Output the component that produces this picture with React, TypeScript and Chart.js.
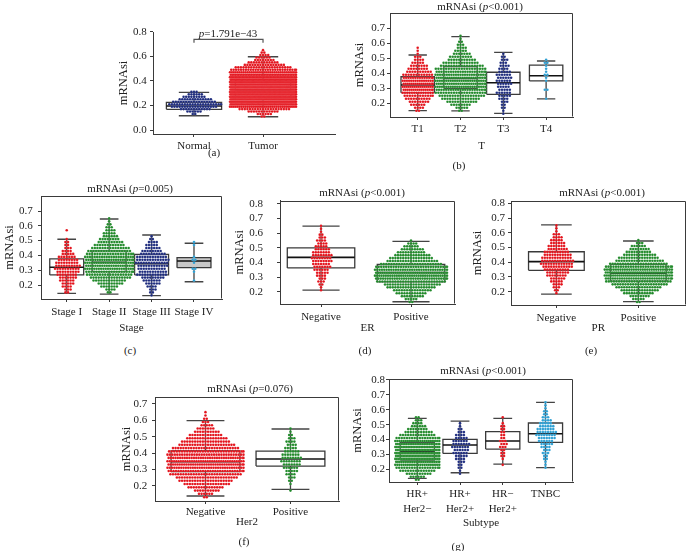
import React, { useEffect, useRef } from 'react';
import { Chart, registerables } from 'chart.js';

Chart.register(...registerables);

const FONT = "'Liberation Serif', 'Times New Roman', Times, serif";
Chart.defaults.font.family = FONT;
Chart.defaults.font.size = 11;
Chart.defaults.color = '#222';

// centres of the mRNAsi bins; each group's array gives the number of dots per bin
const BINS = [0.11, 0.13, 0.15, 0.17, 0.19, 0.21, 0.23, 0.25, 0.27, 0.29, 0.31, 0.33, 0.35, 0.37, 0.39, 0.41, 0.43, 0.45, 0.47, 0.49, 0.51, 0.53, 0.55, 0.57, 0.59, 0.61, 0.63, 0.65];

// (a) Normal vs Tumor
const A_CATS = ['Normal', 'Tumor'];
const A_YTICKS = [0.0, 0.2, 0.4, 0.6, 0.8];
const A_NORMAL = [0, 2, 6, 12, 18, 21, 17, 13, 9, 6, 3, 0, 0, 0, 0, 0, 0, 0, 0, 0, 0, 0, 0, 0, 0, 0, 0, 0];
const A_TUMOR = [2, 6, 12, 20, 35, 55, 65, 75, 80, 82, 80, 78, 75, 70, 62, 55, 48, 42, 35, 28, 22, 16, 12, 8, 6, 4, 2, 1];
// box stats: [lower whisker, Q1, median, Q3, upper whisker]
const A_BOX_NORMAL = [0.116, 0.168, 0.195, 0.225, 0.306];
const A_BOX_TUMOR = [0.108, 0.25, 0.32, 0.41, 0.596];
const A_PTEXT = 'p=1.791e−43';

// (b) T stage
const B_CATS = ['T1', 'T2', 'T3', 'T4'];
const B_YTICKS = [0.2, 0.3, 0.4, 0.5, 0.6, 0.7];
const B_T1 = [0, 0, 2, 4, 6, 8, 10, 12, 14, 16, 16, 16, 15, 14, 12, 10, 8, 7, 5, 4, 3, 1, 1, 1, 0, 0, 0, 0];
const B_T2 = [0, 0, 2, 5, 8, 12, 15, 18, 20, 22, 24, 24, 24, 24, 23, 22, 20, 17, 14, 11, 9, 7, 5, 4, 3, 2, 1, 1];
const B_T3 = [0, 1, 1, 2, 2, 3, 4, 5, 6, 5, 5, 6, 6, 6, 6, 5, 4, 4, 3, 3, 2, 1, 0, 0, 0, 0, 0, 0];
const B_T4 = [0, 0, 0, 0, 0, 0, 1, 0, 0, 2, 0, 0, 1, 1, 2, 1, 1, 1, 2, 1, 0, 0, 0, 0, 0, 0, 0, 0];
const B_BOX_T1 = [0.151, 0.271, 0.322, 0.377, 0.522];
const B_BOX_T2 = [0.15, 0.3, 0.365, 0.444, 0.645];
const B_BOX_T3 = [0.133, 0.26, 0.337, 0.407, 0.54];
const B_BOX_T4 = [0.229, 0.349, 0.384, 0.455, 0.482];
const B_TITLE = 'mRNAsi (p<0.001)';

// (c) Stage
const C_CATS = ['Stage I', 'Stage II', 'Stage III', 'Stage IV'];
const C_YTICKS = [0.2, 0.3, 0.4, 0.5, 0.6, 0.7];
const C_S1 = [0, 0, 2, 3, 4, 5, 6, 7, 8, 9, 10, 10, 9, 8, 7, 5, 4, 3, 2, 2, 1, 0, 0, 1, 0, 0, 0, 0];
const C_S2 = [0, 0, 2, 4, 7, 10, 13, 16, 18, 20, 22, 22, 22, 22, 21, 19, 17, 15, 12, 10, 8, 6, 5, 4, 3, 2, 1, 1];
const C_S3 = [0, 1, 2, 3, 4, 6, 7, 9, 12, 11, 11, 12, 13, 13, 12, 10, 8, 6, 5, 4, 2, 1, 0, 0, 0, 0, 0, 0];
const C_S4 = [0, 0, 0, 0, 0, 0, 1, 0, 0, 1, 2, 0, 1, 2, 1, 0, 0, 0, 1, 1, 0, 0, 0, 0, 0, 0, 0, 0];
const C_BOX_S1 = [0.144, 0.268, 0.32, 0.376, 0.509];
const C_BOX_S2 = [0.139, 0.29, 0.353, 0.43, 0.646];
const C_BOX_S3 = [0.128, 0.268, 0.344, 0.407, 0.538];
const C_BOX_S4 = [0.222, 0.317, 0.362, 0.385, 0.482];
const C_TITLE = 'mRNAsi (p=0.005)';

// (d) ER
const D_CATS = ['Negative', 'Positive'];
const D_YTICKS = [0.2, 0.3, 0.4, 0.5, 0.6, 0.7, 0.8];
const D_NEG = [0, 0, 0, 0, 0, 1, 1, 2, 3, 3, 4, 5, 6, 7, 7, 8, 8, 8, 7, 6, 5, 4, 4, 3, 2, 1, 1, 1];
const D_POS = [0, 2, 5, 9, 12, 15, 19, 22, 27, 32, 34, 34, 32, 30, 24, 20, 17, 14, 11, 9, 6, 4, 1, 0, 0, 0, 0, 0];
const D_BOX_NEG = [0.211, 0.363, 0.435, 0.499, 0.648];
const D_BOX_POS = [0.132, 0.268, 0.331, 0.386, 0.544];
const D_TITLE = 'mRNAsi (p<0.001)';

// (e) PR
const E_CATS = ['Negative', 'Positive'];
const E_YTICKS = [0.2, 0.3, 0.4, 0.5, 0.6, 0.7, 0.8];
const E_NEG = [0, 0, 0, 0, 1, 2, 3, 4, 5, 6, 8, 9, 10, 12, 13, 13, 12, 11, 10, 8, 7, 6, 5, 4, 3, 1, 1, 1];
const E_POS = [0, 2, 5, 8, 12, 15, 18, 22, 26, 30, 33, 33, 31, 28, 23, 19, 16, 13, 10, 8, 6, 3, 1, 0, 0, 0, 0, 0];
const E_BOX_NEG = [0.184, 0.345, 0.404, 0.471, 0.653];
const E_BOX_POS = [0.132, 0.272, 0.326, 0.386, 0.544];
const E_TITLE = 'mRNAsi (p<0.001)';

// (f) Her2
const F_CATS = ['Negative', 'Positive'];
const F_YTICKS = [0.2, 0.3, 0.4, 0.5, 0.6, 0.7];
const F_NEG = [0, 2, 6, 10, 14, 18, 21, 24, 28, 32, 34, 35, 35, 34, 32, 30, 26, 22, 19, 16, 13, 10, 7, 5, 3, 2, 1, 1];
const F_POS = [0, 0, 0, 1, 0, 1, 2, 3, 4, 5, 6, 7, 8, 8, 7, 6, 5, 4, 4, 3, 2, 1, 1, 0, 0, 0, 0, 0];
const F_BOX_NEG = [0.137, 0.286, 0.347, 0.414, 0.598];
const F_BOX_POS = [0.178, 0.32, 0.363, 0.412, 0.547];
const F_TITLE = 'mRNAsi (p=0.076)';

// (g) Subtype
const G_CATS = [['HR+', 'Her2−'], ['HR+', 'Her2+'], ['HR−', 'Her2+'], 'TNBC'];
const G_YTICKS = [0.2, 0.3, 0.4, 0.5, 0.6, 0.7, 0.8];
const G_HRP_HER2N = [0, 2, 6, 10, 14, 18, 22, 25, 28, 30, 30, 29, 28, 26, 22, 18, 14, 11, 8, 6, 4, 3, 2, 0, 0, 0, 0, 0];
const G_HRP_HER2P = [0, 0, 0, 1, 1, 2, 2, 3, 4, 5, 6, 6, 7, 7, 6, 5, 4, 3, 2, 1, 1, 0, 0, 0, 0, 0, 0, 0];
const G_HRN_HER2P = [0, 0, 0, 0, 0, 0, 1, 0, 1, 2, 2, 2, 3, 3, 3, 2, 2, 2, 2, 2, 1, 0, 1, 0, 0, 0, 0, 0];
const G_TNBC = [0, 0, 0, 0, 0, 1, 1, 1, 2, 2, 3, 3, 4, 5, 6, 7, 8, 8, 7, 6, 5, 4, 3, 2, 2, 1, 1, 1];
const G_BOX_1 = [0.139, 0.262, 0.318, 0.381, 0.542];
const G_BOX_2 = [0.177, 0.307, 0.363, 0.401, 0.524];
const G_BOX_3 = [0.235, 0.336, 0.39, 0.453, 0.542];
const G_BOX_4 = [0.211, 0.381, 0.439, 0.511, 0.65];
const G_TITLE = 'mRNAsi (p<0.001)';

const RED = '#e3121b';
const GREEN = '#21892a';
const NAVY = '#1d2b7d';
const CYAN = '#2c9fd3';

const TICK_LEN = 3;
const YTITLE_SIZE = 12.5;
const YTITLE_LH = YTITLE_SIZE * 1.2;
const XTITLE_LH = 11 * 1.2;
const DOT_GAP = 2.6;
const DOT_R = 1.3;
const CAP = 0.55;

type Panel = {
  key: string;
  cats: any[];
  counts: number[][];
  boxes: number[][];
  colors: string[];
  boxFill?: (string | null)[];
  yTicks: number[];
  xTitle?: string;
  title?: string;
  titlePos?: [number, number];
  letter: string;
  letterPos: [number, number];
  canvas: { x: number; y: number; w: number; h: number };
  area: { l: number; t: number; r: number; b: number };
  xMin: number; xMax: number; yMin: number; yMax: number;
  boxW: number;
  halfW: number[];
  yLabelRight: number;
  yTitleX: number;
  xTitleY?: number;
  xTickPad: number;
  catLineHeight?: number;
  sides: string[];
  bracket?: boolean;
};

const PANELS: Panel[] = [
  {
    key: 'a', cats: A_CATS, counts: [A_NORMAL, A_TUMOR], boxes: [A_BOX_NORMAL, A_BOX_TUMOR], colors: [NAVY, RED],
    yTicks: A_YTICKS, letter: '(a)', letterPos: [214, 152],
    canvas: { x: 115, y: 20, w: 225, h: 140 }, area: { l: 153, t: 32, r: 335, b: 134 },
    xMin: -0.594, xMax: 2.043, yMin: -0.0325, yMax: 0.7976, boxW: 0.8, halfW: [27, 33],
    yLabelRight: 146.7, yTitleX: 124, xTickPad: 3, sides: [], bracket: true,
  },
  {
    key: 'b', cats: B_CATS, counts: [B_T1, B_T2, B_T3, B_T4], boxes: [B_BOX_T1, B_BOX_T2, B_BOX_T3, B_BOX_T4],
    colors: [RED, GREEN, NAVY, CYAN], yTicks: B_YTICKS, xTitle: 'T', title: B_TITLE, titlePos: [480, 6],
    letter: '(b)', letterPos: [459, 165],
    canvas: { x: 345, y: 0, w: 235, h: 155 }, area: { l: 390, t: 13, r: 573, b: 117 },
    xMin: -0.647, xMax: 3.628, yMin: 0.1087, yMax: 0.802, boxW: 0.78, halfW: [15, 25, 14, 6],
    yLabelRight: 385, yTitleX: 360, xTitleY: 146, xTickPad: 3, sides: ['top', 'right'],
  },
  {
    key: 'c', cats: C_CATS, counts: [C_S1, C_S2, C_S3, C_S4], boxes: [C_BOX_S1, C_BOX_S2, C_BOX_S3, C_BOX_S4],
    colors: [RED, GREEN, NAVY, CYAN], boxFill: [null, null, null, '#c8c8c8'], yTicks: C_YTICKS, xTitle: 'Stage',
    title: C_TITLE, titlePos: [130, 188], letter: '(c)', letterPos: [130, 350],
    canvas: { x: 0, y: 180, w: 228, h: 157 }, area: { l: 41, t: 196, r: 222, b: 299 },
    xMin: -0.606, xMax: 3.66, yMin: 0.1054, yMax: 0.8014, boxW: 0.8, halfW: [15, 24, 18, 6],
    yLabelRight: 32.7, yTitleX: 10, xTitleY: 328, xTickPad: 3.4, sides: ['top', 'right'],
  },
  {
    key: 'd', cats: D_CATS, counts: [D_NEG, D_POS], boxes: [D_BOX_NEG, D_BOX_POS], colors: [RED, GREEN],
    yTicks: D_YTICKS, xTitle: 'ER', title: D_TITLE, titlePos: [362, 192], letter: '(d)', letterPos: [365, 350],
    canvas: { x: 228, y: 180, w: 232, h: 157 }, area: { l: 280, t: 200, r: 455, b: 304 },
    xMin: -0.456, xMax: 1.489, yMin: 0.1165, yMax: 0.8224, boxW: 0.75, halfW: [14, 36],
    yLabelRight: 263, yTitleX: 240, xTitleY: 328.3, xTickPad: 3.4, sides: ['top', 'right'],
  },
  {
    key: 'e', cats: E_CATS, counts: [E_NEG, E_POS], boxes: [E_BOX_NEG, E_BOX_POS], colors: [RED, GREEN],
    yTicks: E_YTICKS, xTitle: 'PR', title: E_TITLE, titlePos: [602, 192], letter: '(e)', letterPos: [591, 350],
    canvas: { x: 466, y: 180, w: 224, h: 157 }, area: { l: 511, t: 201, r: 688, b: 305 },
    xMin: -0.554, xMax: 1.578, yMin: 0.1097, yMax: 0.8156, boxW: 0.68, halfW: [22, 34],
    yLabelRight: 505, yTitleX: 478, xTitleY: 328.3, xTickPad: 3.4, sides: ['top', 'right'],
  },
  {
    key: 'f', cats: F_CATS, counts: [F_NEG, F_POS], boxes: [F_BOX_NEG, F_BOX_POS], colors: [RED, GREEN],
    yTicks: F_YTICKS, xTitle: 'Her2', title: F_TITLE, titlePos: [250, 388], letter: '(f)', letterPos: [244, 541],
    canvas: { x: 115, y: 375, w: 230, h: 160 }, area: { l: 155, t: 397, r: 339, b: 501 },
    xMin: -0.594, xMax: 1.571, yMin: 0.1064, yMax: 0.7428, boxW: 0.81, halfW: [38, 14],
    yLabelRight: 147.3, yTitleX: 127, xTitleY: 521.7, xTickPad: 2, sides: ['top', 'right'],
  },
  {
    key: 'g', cats: G_CATS, counts: [G_HRP_HER2N, G_HRP_HER2P, G_HRN_HER2P, G_TNBC],
    boxes: [G_BOX_1, G_BOX_2, G_BOX_3, G_BOX_4], colors: [GREEN, NAVY, RED, CYAN],
    yTicks: G_YTICKS, xTitle: 'Subtype', title: G_TITLE, titlePos: [483, 370], letter: '(g)', letterPos: [458, 546],
    canvas: { x: 345, y: 360, w: 235, h: 172 }, area: { l: 389, t: 379, r: 573, b: 482 },
    xMin: -0.662, xMax: 3.644, yMin: 0.1147, yMax: 0.8067, boxW: 0.8, halfW: [22, 13, 10, 14],
    yLabelRight: 385, yTitleX: 358, xTitleY: 523.3, xTickPad: 1, catLineHeight: 1.4, sides: ['top', 'right'],
  },
];

function buildConfig(p: Panel): any {
  const pxPerX = (p.area.r - p.area.l) / (p.xMax - p.xMin);
  const datasets: any[] = [];

  p.counts.forEach((cnt, gi) => {
    const pts: { x: number; y: number }[] = [];
    cnt.forEach((n, bi) => {
      if (!n) return;
      const s = n > 1 ? Math.min(DOT_GAP, (2 * p.halfW[gi]) / (n - 1)) : 0;
      const stagger = bi % 2 === 1 && n > 2 ? s / 2 : 0;
      for (let k = 0; k < n; k++) {
        const off = (k - (n - 1) / 2) * s + stagger;
        const clamped = Math.max(-p.halfW[gi], Math.min(p.halfW[gi], off));
        pts.push({ x: gi + clamped / pxPerX, y: BINS[bi] });
      }
    });
    datasets.push({
      type: 'scatter', data: pts, order: 0,
      pointRadius: DOT_R, pointBackgroundColor: p.colors[gi],
      pointBorderColor: 'rgba(255,255,255,0.3)', pointBorderWidth: 0.3,
    });
  });

  p.boxes.forEach((b, gi) => {
    const [lo, q1, med, q3, hi] = b;
    const hw = p.boxW / 2;
    const cw = hw * CAP;
    const fill = p.boxFill ? p.boxFill[gi] : null;
    datasets.push({
      type: 'line', order: 3, pointRadius: 0, borderColor: '#3a3a3a', borderWidth: 1.3, tension: 0,
      data: [
        { x: gi - hw, y: q1 }, { x: gi + hw, y: q1 }, { x: gi + hw, y: q3 }, { x: gi - hw, y: q3 }, { x: gi - hw, y: q1 },
      ],
      fill: fill ? 'shape' : false, backgroundColor: fill || 'transparent',
    });
    datasets.push({
      type: 'line', order: 3, pointRadius: 0, borderColor: '#444', borderWidth: 1.3, tension: 0, fill: false,
      data: [
        { x: gi, y: q3 }, { x: gi, y: hi }, { x: gi, y: null },
        { x: gi - cw, y: hi }, { x: gi + cw, y: hi }, { x: gi, y: null },
        { x: gi, y: q1 }, { x: gi, y: lo }, { x: gi, y: null },
        { x: gi - cw, y: lo }, { x: gi + cw, y: lo },
      ],
    });
    datasets.push({
      type: 'line', order: 2, pointRadius: 0, borderColor: '#111', borderWidth: 1.6, tension: 0, fill: false,
      data: [{ x: gi - hw, y: med }, { x: gi + hw, y: med }],
    });
  });

  if (p.bracket) {
    datasets.push({
      type: 'line', order: 3, pointRadius: 0, borderColor: '#555', borderWidth: 1.2, tension: 0, fill: false,
      data: [{ x: 0, y: 0.71 }, { x: 0, y: 0.737 }, { x: 1, y: 0.737 }, { x: 1, y: 0.71 }],
    });
  }

  const yAxisW = p.area.l - p.canvas.x;
  const xAxisH = p.canvas.y + p.canvas.h - p.area.b;
  const yTickPad = p.area.l - p.yLabelRight - TICK_LEN;
  const yTitlePad = p.yTitleX - p.canvas.x - YTITLE_LH / 2;
  const xTitlePad = p.xTitleY ? p.canvas.y + p.canvas.h - p.xTitleY - XTITLE_LH / 2 : 0;

  const sides = p.sides;
  const framePlugin = {
    id: 'frame' + p.key,
    afterDraw(chart: any) {
      const { ctx, chartArea: a } = chart;
      const L = Math.round(a.left) + 0.5, R = Math.round(a.right) - 0.5;
      const T = Math.round(a.top) + 0.5, B = Math.round(a.bottom) - 0.5;
      ctx.save();
      ctx.strokeStyle = '#3a3a3a';
      ctx.lineWidth = 1;
      ctx.beginPath();
      if (sides.includes('top')) { ctx.moveTo(L, T); ctx.lineTo(R, T); }
      if (sides.includes('right')) { ctx.moveTo(R, T); ctx.lineTo(R, B); }
      ctx.stroke();
      ctx.restore();
    },
  };

  const gridCommon = { drawOnChartArea: false, drawTicks: true, tickLength: TICK_LEN, color: '#3a3a3a' };
  const borderCommon = { display: true, color: '#3a3a3a', width: 1 };

  return {
    type: 'scatter',
    data: { datasets },
    plugins: [framePlugin],
    options: {
      responsive: false,
      maintainAspectRatio: false,
      animation: false,
      events: [],
      layout: {
        padding: { left: 0, top: p.area.t - p.canvas.y, right: p.canvas.x + p.canvas.w - p.area.r, bottom: 0 },
      },
      plugins: { legend: { display: false }, title: { display: false }, tooltip: { enabled: false } },
      scales: {
        x: {
          type: 'linear', min: p.xMin, max: p.xMax,
          afterBuildTicks: (s: any) => { s.ticks = p.cats.map((_, i) => ({ value: i })); },
          afterFit: (s: any) => { s.height = xAxisH; },
          ticks: {
            autoSkip: false, maxRotation: 0, padding: p.xTickPad, color: '#222',
            font: { family: FONT, size: 11, lineHeight: p.catLineHeight || 1.2 },
            callback: (v: any) => p.cats[Math.round(v)],
          },
          grid: gridCommon,
          border: borderCommon,
          title: {
            display: !!p.xTitle, text: p.xTitle || '', color: '#222',
            font: { family: FONT, size: 11 }, padding: { top: 0, bottom: xTitlePad },
          },
        },
        y: {
          type: 'linear', min: p.yMin, max: p.yMax,
          afterBuildTicks: (s: any) => { s.ticks = p.yTicks.map((v) => ({ value: v })); },
          afterFit: (s: any) => { s.width = yAxisW; },
          ticks: {
            padding: yTickPad, color: '#222', font: { family: FONT, size: 11 },
            callback: (v: any) => Number(v).toFixed(1),
          },
          grid: gridCommon,
          border: borderCommon,
          title: {
            display: true, text: 'mRNAsi', color: '#222',
            font: { family: FONT, size: YTITLE_SIZE }, padding: { top: yTitlePad, bottom: 0 },
          },
        },
      },
    },
  };
}

function PanelChart({ p }: { p: Panel }) {
  const ref = useRef<HTMLCanvasElement | null>(null);
  useEffect(() => {
    const chart = new Chart(ref.current as HTMLCanvasElement, buildConfig(p));
    return () => chart.destroy();
  }, [p]);
  return (
    <canvas
      ref={ref}
      width={p.canvas.w}
      height={p.canvas.h}
      style={{ position: 'absolute', left: p.canvas.x, top: p.canvas.y, width: p.canvas.w, height: p.canvas.h }}
    />
  );
}

function PText({ text }: { text: string }) {
  const i = text.indexOf('p');
  return (
    <>
      {text.slice(0, i)}
      <i>p</i>
      {text.slice(i + 1)}
    </>
  );
}

const labelStyle = (x: number, y: number): React.CSSProperties => ({
  position: 'absolute', left: x, top: y, transform: 'translate(-50%, -50%)', whiteSpace: 'nowrap',
  fontFamily: FONT, fontSize: 11, color: '#222', lineHeight: 1,
});

export default function App() {
  return (
    <div style={{ position: 'absolute', left: 0, top: 0, width: 690, height: 551, background: '#fff', overflow: 'hidden' }}>
      {PANELS.map((p) => (
        <PanelChart key={p.key} p={p} />
      ))}
      {PANELS.filter((p) => p.title).map((p) => (
        <div key={'t' + p.key} style={labelStyle(p.titlePos![0], p.titlePos![1])}>
          <PText text={p.title!} />
        </div>
      ))}
      {PANELS.map((p) => (
        <div key={'l' + p.key} style={labelStyle(p.letterPos[0], p.letterPos[1])}>
          {p.letter}
        </div>
      ))}
      <div style={labelStyle(228, 33)}>
        <PText text={A_PTEXT} />
      </div>
    </div>
  );
}
